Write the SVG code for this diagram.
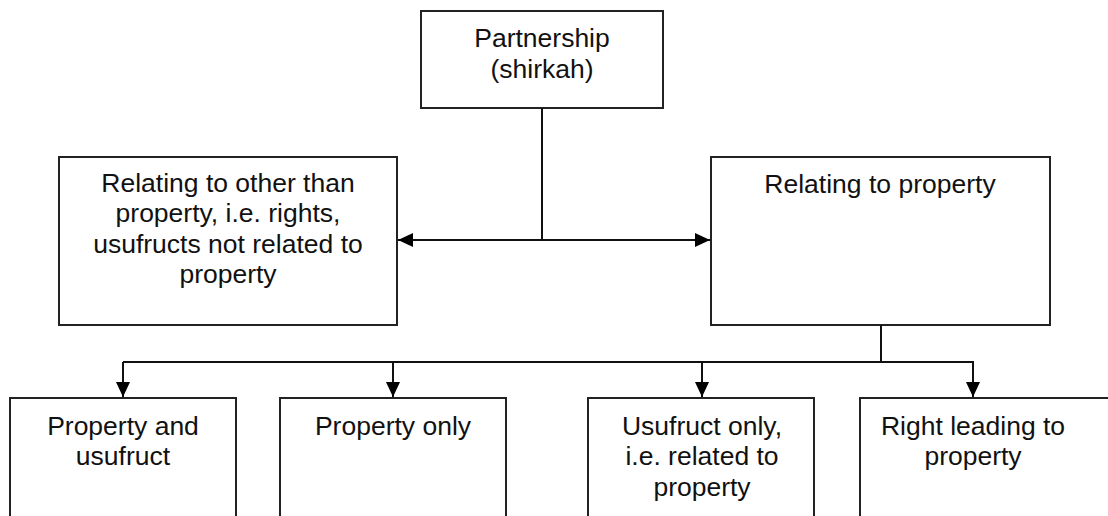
<svg xmlns="http://www.w3.org/2000/svg" width="1108" height="516" viewBox="0 0 1108 516">
<style>
.box{fill:#fff;stroke:#222;stroke-width:2}
.t{font-family:"Liberation Sans",Arial,sans-serif;font-size:26.5px;fill:#111;text-anchor:middle}
.c{fill:none;stroke:#111;stroke-width:2}
</style>
<defs>
<marker id="ah" viewBox="0 0 15 14" refX="15" refY="7" markerWidth="15" markerHeight="14" markerUnits="userSpaceOnUse" orient="auto">
<path d="M0,0 L15,7 L0,14 Z" fill="#000"/>
</marker>
</defs>
<g id="n-partnership">
<rect class="box" x="421" y="11" width="242" height="97"/>
<text class="t" x="542" y="47">Partnership</text>
<text class="t" x="542" y="78">(shirkah)</text>
</g>
<g id="n-other">
<rect class="box" x="59" y="157" width="338" height="168"/>
<text class="t" x="228" y="192">Relating to other than</text>
<text class="t" x="228" y="222">property, i.e. rights,</text>
<text class="t" x="228" y="253">usufructs not related to</text>
<text class="t" x="228" y="283">property</text>
</g>
<g id="n-property">
<rect class="box" x="711" y="157" width="339" height="168"/>
<text class="t" x="880" y="193">Relating to property</text>
</g>
<g id="n-prop-usufruct">
<rect class="box" x="10" y="398" width="226" height="130"/>
<text class="t" x="123" y="435">Property and</text>
<text class="t" x="123" y="465">usufruct</text>
</g>
<g id="n-prop-only">
<rect class="box" x="280" y="398" width="226" height="130"/>
<text class="t" x="393" y="435">Property only</text>
</g>
<g id="n-usufruct-only">
<rect class="box" x="588" y="398" width="226" height="130"/>
<text class="t" x="702" y="435">Usufruct only,</text>
<text class="t" x="702" y="465">i.e. related to</text>
<text class="t" x="702" y="496">property</text>
</g>
<g id="n-right">
<rect class="box" x="860" y="398" width="260" height="130"/>
<text class="t" x="973" y="435">Right leading to</text>
<text class="t" x="973" y="465">property</text>
</g>
<g id="connectors">
<path class="c" d="M542,108 V240"/>
<path class="c" d="M542,240 H398" marker-end="url(#ah)"/>
<path class="c" d="M542,240 H710" marker-end="url(#ah)"/>
<path class="c" d="M881,325 V362 H123"/>
<path class="c" d="M123,362 V397" marker-end="url(#ah)"/>
<path class="c" d="M393,362 V397" marker-end="url(#ah)"/>
<path class="c" d="M702,362 V397" marker-end="url(#ah)"/>
<path class="c" d="M881,362 H973 V397" marker-end="url(#ah)"/>
</g>
</svg>
